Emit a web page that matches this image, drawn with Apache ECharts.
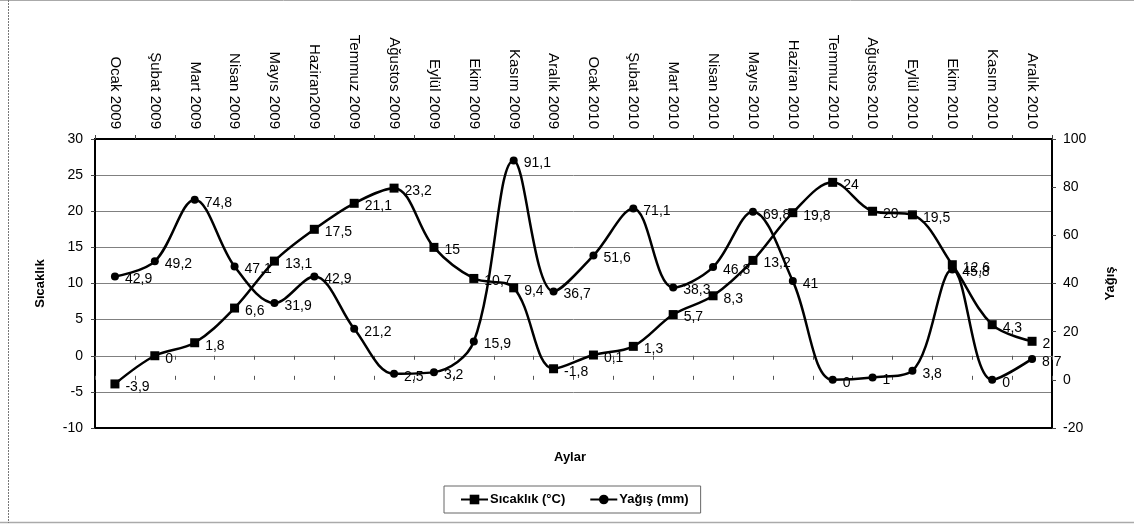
<!DOCTYPE html>
<html>
<head>
<meta charset="utf-8">
<script src="https://cdn.jsdelivr.net/npm/echarts@6/dist/echarts.min.js"></script>
<style>
html,body{margin:0;padding:0;background:#fff;}
#c{width:1134px;height:524px;}
</style>
</head>
<body>
<div id="c"></div>
<script>
const months = ['Ocak 2009','Şubat 2009','Mart 2009','Nisan 2009','Mayıs 2009','Haziran2009','Temmuz 2009','Ağustos 2009','Eylül 2009','Ekim 2009','Kasım 2009','Aralık 2009',
  'Ocak 2010','Şubat 2010','Mart 2010','Nisan 2010','Mayıs 2010','Haziran 2010','Temmuz 2010','Ağustos 2010','Eylül 2010','Ekim 2010','Kasım 2010','Aralık 2010'];
const sicaklik = [-3.9, 0, 1.8, 6.6, 13.1, 17.5, 21.1, 23.2, 15, 10.7, 9.4, -1.8, 0.1, 1.3, 5.7, 8.3, 13.2, 19.8, 24, 20, 19.5, 12.6, 4.3, 2];
const yagis = [42.9, 49.2, 74.8, 47.1, 31.9, 42.9, 21.2, 2.5, 3.2, 15.9, 91.1, 36.7, 51.6, 71.1, 38.3, 46.8, 69.8, 41, 0, 1, 3.8, 45.8, 0, 8.7];
const leftTicks = {min: -10, max: 30, interval: 5};
const rightTicks = {min: -20, max: 100, interval: 20};

const SANS = "'Liberation Sans',Arial,sans-serif";

const chart = echarts.init(document.getElementById('c'), null, {renderer: 'canvas'});
const fmt = p => String(p.value).replace('.', ',');
const labelStyle = {show: true, position: 'right', distance: 6, offset: [0, 3], formatter: fmt,
  fontFamily: SANS, fontSize: 14, color: '#000'};

chart.setOption({
  animation: false,
  backgroundColor: '#fff',
  grid: {left: 95, right: 82, top: 139, bottom: 96, show: true, borderColor: '#000', borderWidth: 2, backgroundColor: 'transparent'},
  legend: {
    left: 444, top: 486, orient: 'horizontal',
    padding: [7, 12, 7, 16],
    itemGap: 24, itemWidth: 27, itemHeight: 12,
    borderColor: '#666', borderWidth: 1, borderRadius: 0,
    textStyle: {fontFamily: SANS, fontSize: 13, fontWeight: 'bold', color: '#000', padding: [0, 0, 0, -3]},
    data: ['Sıcaklık (°C)', 'Yağış (mm)']
  },
  graphic: [
    {type: 'line', shape: {x1: 0, y1: 0.5, x2: 1134, y2: 0.5}, style: {stroke: '#aaa', lineWidth: 1}},
    {type: 'line', shape: {x1: 0, y1: 522.5, x2: 1134, y2: 522.5}, style: {stroke: '#aaa', lineWidth: 1.5}},
    {type: 'line', shape: {x1: 8.5, y1: 0, x2: 8.5, y2: 523}, style: {stroke: '#777', lineWidth: 1, lineDash: [2, 1]}},
    {type: 'text', x: 570, y: 457, style: {text: 'Aylar', fontFamily: SANS, fontSize: 13, fontWeight: 'bold', fill: '#000', textAlign: 'center', textVerticalAlign: 'middle'}}
  ],
  xAxis: [
    {
      type: 'category', data: months, position: 'top', boundaryGap: true,
      axisLine: {show: true, onZero: false, lineStyle: {color: '#000', width: 2}},
      axisTick: {show: true, interval: 0, length: 4, lineStyle: {color: '#444'}},
      axisLabel: {rotate: 90, interval: 0, margin: 10, fontFamily: SANS, fontSize: 15, color: '#000'},
      splitLine: {show: false}
    },
    {
      type: 'category', data: months, position: 'bottom', boundaryGap: true,
      axisLine: {show: true, onZero: true, lineStyle: {color: '#808080', width: 1}},
      axisTick: {show: true, interval: 0, length: 4, lineStyle: {color: '#555'}},
      axisLabel: {show: false}, splitLine: {show: false}
    },
    {
      type: 'category', data: months, position: 'top', boundaryGap: true,
      axisLine: {show: false, onZero: true},
      axisTick: {show: true, interval: 0, length: 4, lineStyle: {color: '#555'}},
      axisLabel: {show: false}, splitLine: {show: false}
    }
  ],
  yAxis: [
    {
      type: 'value', position: 'left', min: leftTicks.min, max: leftTicks.max, interval: leftTicks.interval,
      name: 'Sıcaklık', nameLocation: 'middle', nameRotate: 90, nameGap: 48,
      nameTextStyle: {fontFamily: SANS, fontSize: 13, fontWeight: 'bold', color: '#000'},
      axisLine: {show: true, lineStyle: {color: '#000', width: 2}},
      axisTick: {show: true, length: 4, lineStyle: {color: '#444'}},
      axisLabel: {margin: 12, fontFamily: SANS, fontSize: 14, color: '#000'},
      splitLine: {show: true, showMinLine: false, showMaxLine: false, lineStyle: {color: '#808080', width: 1}}
    },
    {
      type: 'value', position: 'right', min: rightTicks.min, max: rightTicks.max, interval: rightTicks.interval,
      name: 'Yağış', nameLocation: 'middle', nameRotate: 90, nameGap: 52,
      nameTextStyle: {fontFamily: SANS, fontSize: 13, fontWeight: 'bold', color: '#000'},
      axisLine: {show: true, lineStyle: {color: '#000', width: 2}},
      axisTick: {show: true, length: 4, lineStyle: {color: '#444'}},
      axisLabel: {margin: 11, fontFamily: SANS, fontSize: 14, color: '#000'},
      splitLine: {show: false}
    }
  ],
  series: [
    {
      name: 'Sıcaklık (°C)', type: 'line', xAxisIndex: 0, yAxisIndex: 0, data: sicaklik,
      smooth: 0.35, symbol: 'rect', symbolSize: 9,
      itemStyle: {color: '#000'}, lineStyle: {color: '#000', width: 2.5},
      label: labelStyle, z: 3
    },
    {
      name: 'Yağış (mm)', type: 'line', xAxisIndex: 0, yAxisIndex: 1, data: yagis,
      smooth: 0.35, symbol: 'circle', symbolSize: 8,
      itemStyle: {color: '#000'}, lineStyle: {color: '#000', width: 2.5},
      label: labelStyle, z: 3
    }
  ]
});
</script>
</body>
</html>
